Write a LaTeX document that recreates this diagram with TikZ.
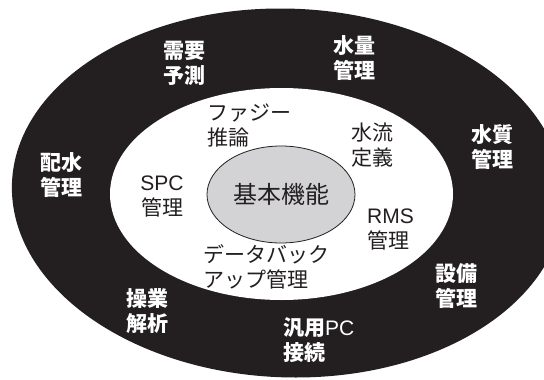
\documentclass[tikz,border=0pt]{standalone}
\usepackage{fontspec}
\setmainfont{Liberation Sans}
\newfontfamily\jp{Noto Sans CJK JP}
\newfontfamily\lat{Liberation Sans}
\usetikzlibrary{shapes.geometric}
\definecolor{ink}{RGB}{35,31,32}
\definecolor{coregray}{RGB}{211,211,213}
\begin{document}
\begin{tikzpicture}[x=1pt,y=-1pt,
  outerlbl/.style={font=\fontsize{21}{25}\selectfont\jp\bfseries, text=white, align=center, inner sep=0pt},
  innerlbl/.style={font=\fontsize{21}{25}\selectfont\jp, text=ink, align=center, inner sep=0pt}]
\useasboundingbox (0,0) rectangle (544,380);
\begin{scope}
  \clip (0,0) rectangle (544,380);
  \fill[ink, shift={(288,193)}, xslant=-0.0425] (0,0) ellipse [x radius=276pt, y radius=184.5pt];
\end{scope}
\fill[white] (281.5,194) ellipse [x radius=171.5pt, y radius=106pt];
\node[ellipse, draw=ink, fill=coregray, line width=0.8pt, minimum width=148pt, minimum height=97pt, inner sep=0pt, font=\fontsize{24}{28}\selectfont\jp, text=ink] (core) at (281,194.5) {基本機能};
% outer ring labels
\node[outerlbl] (demand) at (184,63) {需要\\予測};
\node[outerlbl] (qty) at (354,58) {水量\\管理};
\node[outerlbl] (qual) at (492,147) {水質\\管理};
\node[outerlbl] (dist) at (62,175) {配水\\管理};
\node[outerlbl] (equip) at (456,286) {設備\\管理};
\node[outerlbl] (ops) at (147,311) {操業\\解析};
\node[outerlbl, align=left, anchor=west] (pc) at (283,340) {汎用{\lat\mdseries PC}\\接続};
% inner ring labels
\node[innerlbl, align=left, anchor=west] (fuzzy) at (207,126) {ファジー\\推論};
\node[innerlbl] (flow) at (372,145) {水流\\定義};
\node[innerlbl] (spc) at (162,197) {{\lat SPC}\\管理};
\node[innerlbl, align=left, anchor=west] (rms) at (367,230) {{\lat RMS}\\管理};
\node[innerlbl, align=left, anchor=west] (backup) at (203,267) {データバック\\アップ管理};
\end{tikzpicture}
\end{document}
